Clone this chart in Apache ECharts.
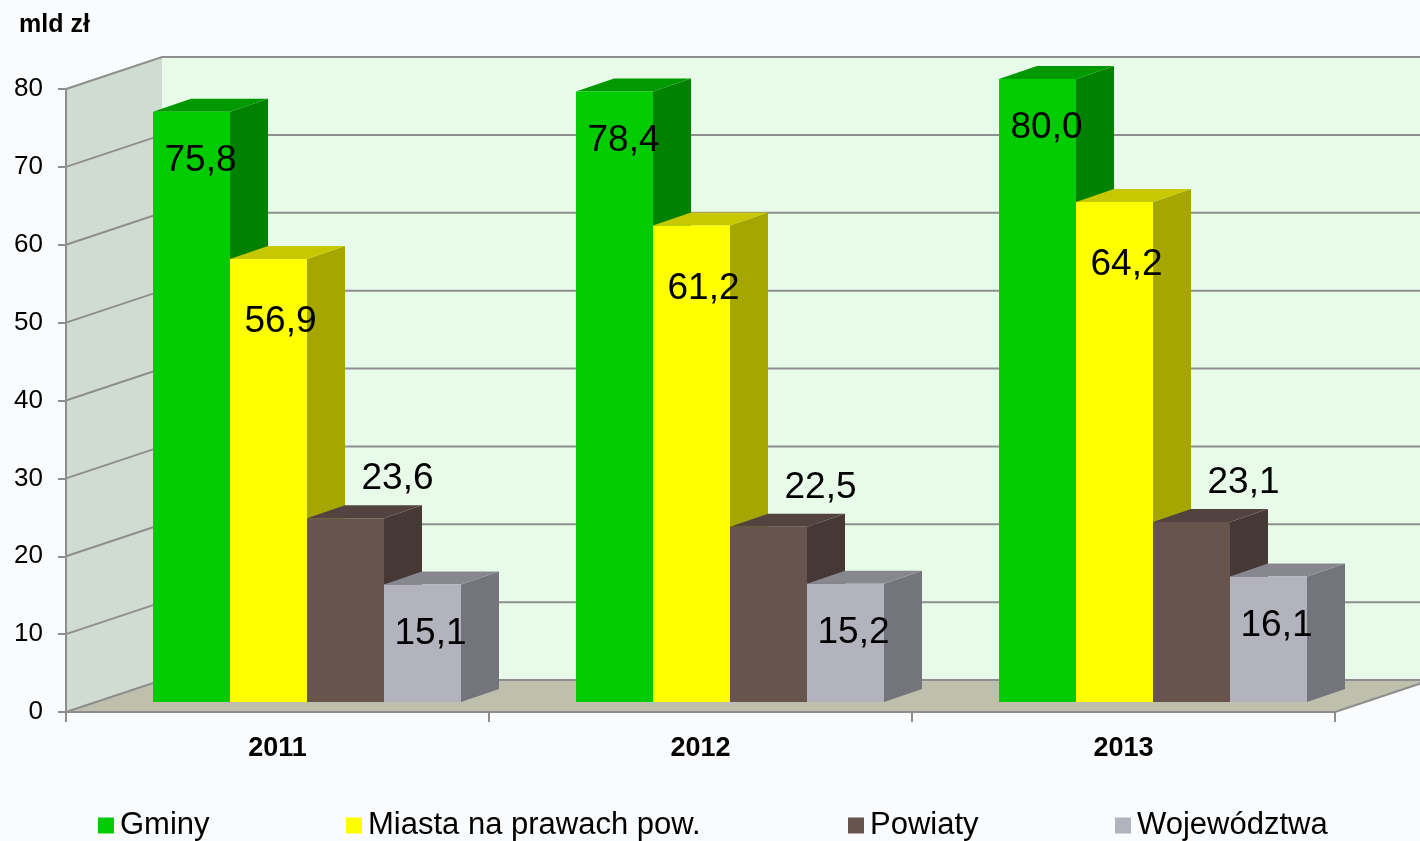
<!DOCTYPE html>
<html>
<head>
<meta charset="utf-8">
<script src="https://cdn.jsdelivr.net/npm/echarts@6/dist/echarts.min.js"></script>
<style>
html,body{margin:0;padding:0;background:#fafbfd;}
#chart{width:1420px;height:841px;}
</style>
</head>
<body>
<div id="chart"></div>
<script>
// ---- data ----
const years = ['2011', '2012', '2013'];
const seriesNames = ['Gminy', 'Miasta na prawach pow.', 'Powiaty', 'Województwa'];
const gminy = [75.8, 78.4, 80.0];
const miasta = [56.9, 61.2, 64.2];
const powiaty = [23.6, 22.5, 23.1];
const wojewodztwa = [15.1, 15.2, 16.1];
const yTicks = [0, 10, 20, 30, 40, 50, 60, 70, 80];
const unitLabel = 'mld zł';

// ---- styling / geometry ----
const FONT = '"Liberation Sans", Arial, sans-serif';
const DX = 96, DY = -32;          // full depth of the box
const BX = 30, BY = -10;          // bar front plane offset
const BDX = 38, BDY = -13;        // bar depth
const BAR_START = 57 / 423, BAR_W = 77 / 423;
const GRID_COLOR = '#8e8e8e';

const palettes = [
  { front: '#00cc00', top: '#009a00', side: '#008200', ldx: 9, ldy: 49 },
  { front: '#ffff00', top: '#c8c800', side: '#a6a600', ldx: 12, ldy: 63 },
  { front: '#67554d', top: '#524340', side: '#453835', ldx: 52, ldy: -39 },
  { front: '#b3b3bd', top: '#878790', side: '#74747c', ldx: 8, ldy: 49 }
];
const values = [gminy, miasta, powiaty, wojewodztwa];

function fmt(v) { return v.toFixed(1).replace('.', ','); }

function frameRender(params, api) {
  const cs = params.coordSys;
  const left = cs.x, right = cs.x + cs.width;
  const y0 = api.coord([0, 0])[1];
  const yTop = api.coord([0, yTicks[yTicks.length - 1]])[1];
  return {
    type: 'group',
    children: [
      { type: 'polygon', shape: { points: [[left + DX, yTop + DY], [right + DX, yTop + DY], [right + DX, y0 + DY], [left + DX, y0 + DY]] }, style: { fill: '#e8fae8' } },
      { type: 'polygon', shape: { points: [[left, yTop], [left + DX, yTop + DY], [left + DX, y0 + DY], [left, y0]] }, style: { fill: '#d0dcd2' } },
      { type: 'polygon', shape: { points: [[left, y0], [right, y0], [right + DX, y0 + DY], [left + DX, y0 + DY]] }, style: { fill: '#bebfad' } },
      { type: 'polyline', shape: { points: [[right, y0], [right + DX, y0 + DY]] }, style: { stroke: GRID_COLOR, lineWidth: 2, fill: null } }
    ]
  };
}

function gridRender(params, api) {
  const cs = params.coordSys;
  const left = cs.x, right = cs.x + cs.width;
  const y = api.coord([0, api.value(0)])[1];
  return {
    type: 'polyline',
    shape: { points: [[left, y], [left + DX, y + DY], [right + DX, y + DY]] },
    style: { stroke: GRID_COLOR, lineWidth: 2, fill: null }
  };
}

function barRenderer(si) {
  const p = palettes[si];
  return function (params, api) {
    const cat = api.value(0), v = api.value(1);
    const base = api.coord([cat, 0]);
    const top = api.coord([cat, v]);
    const bw = api.size([1, 0])[0];
    const x0 = base[0] - bw / 2 + bw * (BAR_START + si * BAR_W) + BX;
    const x1 = x0 + bw * BAR_W;
    const yb = base[1] + BY, yt = top[1] + BY;
    const cx = (x0 + x1) / 2;
    return {
      type: 'group',
      children: [
        { type: 'polygon', shape: { points: [[x1, yt], [x1 + BDX, yt + BDY], [x1 + BDX, yb + BDY], [x1, yb]] }, style: { fill: p.side } },
        { type: 'polygon', shape: { points: [[x0, yt], [x0 + BDX, yt + BDY], [x1 + BDX, yt + BDY], [x1, yt]] }, style: { fill: p.top } },
        { type: 'rect', shape: { x: x0, y: yt, width: x1 - x0, height: yb - yt }, style: { fill: p.front } },
        { type: 'text', x: cx + p.ldx, y: yt + p.ldy, style: { text: fmt(v), fill: '#000', font: '37px ' + FONT, align: 'center', verticalAlign: 'middle' } }
      ]
    };
  };
}

const chart = echarts.init(document.getElementById('chart'), null, { renderer: 'canvas' });

const series = [
  { type: 'custom', name: '_frame', renderItem: frameRender, data: [[0]], encode: { y: 0 }, clip: false, silent: true, z: 1 },
  { type: 'custom', name: '_grid', renderItem: gridRender, data: yTicks.map(v => [v]), encode: { y: 0 }, clip: false, silent: true, z: 2 }
];
values.forEach((arr, si) => {
  series.push({
    type: 'custom',
    name: seriesNames[si],
    renderItem: barRenderer(si),
    itemStyle: { color: palettes[si].front },
    data: arr.map((v, i) => [i, v]),
    encode: { x: 0, y: 1 },
    clip: false,
    z: 3 + si
  });
});

const legendLefts = [98, 346, 848, 1115];
const legends = seriesNames.map((n, i) => ({
  data: [n],
  left: legendLefts[i],
  top: 810,
  padding: 0,
  icon: 'rect',
  itemWidth: 16,
  itemHeight: 16,
  itemGap: 6,
  selectedMode: false,
  textStyle: { fontSize: 31, fontFamily: FONT, color: '#000', padding: [0, 0, 0, 1] }
}));

chart.setOption({
  backgroundColor: '#fafbfd',
  animation: false,
  title: {
    text: unitLabel, left: 19, top: 13, padding: 0,
    textStyle: { fontSize: 25, fontWeight: 'bold', fontFamily: FONT, color: '#000' }
  },
  legend: legends,
  grid: { left: 66, right: 85, top: 89, bottom: 129, containLabel: false },
  xAxis: {
    type: 'category',
    data: years,
    boundaryGap: true,
    axisLine: { show: true, lineStyle: { color: GRID_COLOR, width: 2 } },
    axisTick: { show: true, length: 10, lineStyle: { color: GRID_COLOR, width: 2 } },
    axisLabel: { margin: 23, fontSize: 27, fontWeight: 'bold', fontFamily: FONT, color: '#000' },
    splitLine: { show: false },
    z: 10
  },
  yAxis: {
    type: 'value',
    min: 0, max: 80, interval: 10,
    axisLine: { show: true, lineStyle: { color: GRID_COLOR, width: 2 } },
    axisTick: { show: true, length: 8, lineStyle: { color: GRID_COLOR, width: 2 } },
    axisLabel: { margin: 23, fontSize: 26, fontFamily: FONT, color: '#000' },
    splitLine: { show: false },
    z: 10
  },
  series: series
});
</script>
</body>
</html>
